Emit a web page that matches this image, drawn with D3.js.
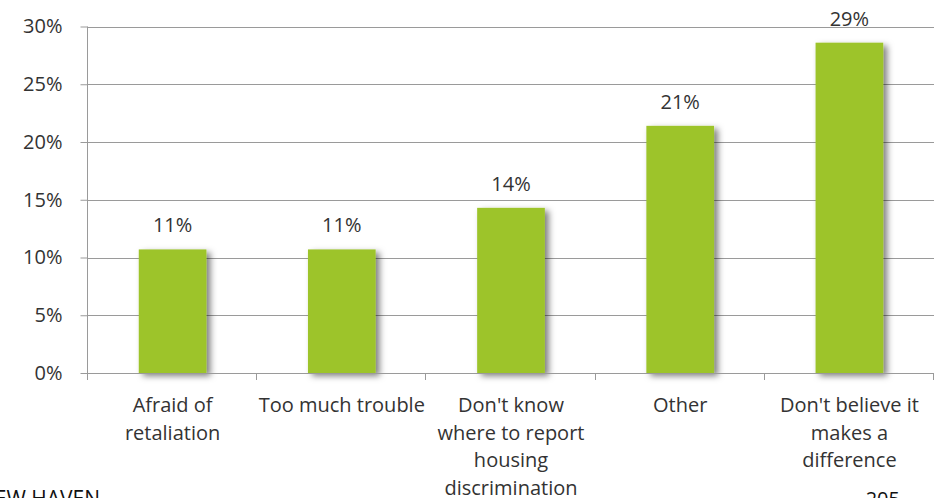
<!DOCTYPE html>
<html>
<head>
<meta charset="utf-8">
<script src="https://cdn.jsdelivr.net/npm/d3@7"></script>
<style>
  html, body { margin: 0; padding: 0; background: #fff; overflow: hidden; }
  svg { display: block; }
  text { font-family: "Open Sans", "Noto Sans", sans-serif; }
</style>
</head>
<body>
<svg id="chart" width="940" height="498"></svg>
<script>
// Reasons for not reporting housing discrimination
const categories = [
  "Afraid of\nretaliation",
  "Too much trouble",
  "Don't know\nwhere to report\nhousing\ndiscrimination",
  "Other",
  "Don't believe it\nmakes a\ndifference"
];
const shares = [0.107, 0.107, 0.143, 0.214, 0.286];
const yTicks = [0, 0.05, 0.10, 0.15, 0.20, 0.25, 0.30];

const svg = d3.select("#chart");
const plotLeft = 88, plotRight = 934, plotTop = 26.5, plotBottom = 373;
const fontSize = 20;

const x = d3.scaleBand().domain(d3.range(categories.length))
  .range([plotLeft, plotRight]).paddingInner(0.6).paddingOuter(0.3);
const y = d3.scaleLinear().domain([0, 0.30]).range([plotBottom, plotTop]);
const pct = d3.format(".0%");

// soft drop shadow under each bar
const defs = svg.append("defs");
const f = defs.append("filter").attr("id", "shadow")
  .attr("x", "-20%").attr("y", "-10%").attr("width", "150%").attr("height", "130%");
f.append("feDropShadow").attr("dx", 4).attr("dy", 3).attr("stdDeviation", 3)
  .attr("flood-color", "#000").attr("flood-opacity", 0.5);

// horizontal gridlines
svg.append("g").selectAll("line").data(yTicks.slice(1)).join("line")
  .attr("x1", plotLeft).attr("x2", plotRight)
  .attr("y1", d => Math.round(y(d)) + 0.5).attr("y2", d => Math.round(y(d)) + 0.5)
  .attr("stroke", "#9a9a9a").attr("stroke-width", 1);

// y axis
const yAxis = svg.append("g").attr("transform", `translate(${plotLeft - 0.5},0)`)
  .call(d3.axisLeft(y).tickValues(yTicks).tickFormat(pct).tickSize(7).tickPadding(18));
yAxis.select(".domain").attr("stroke", "#9a9a9a").attr("d", `M0,${plotTop}V${plotBottom + 6}`);
yAxis.selectAll(".tick line").attr("stroke", "#9a9a9a");
yAxis.selectAll(".tick text").attr("font-size", fontSize).attr("fill", "#333")
  .attr("font-family", "'Open Sans', sans-serif");

// bars
svg.append("g").selectAll("rect").data(shares).join("rect")
  .attr("x", (d, i) => x(i)).attr("width", x.bandwidth())
  .attr("y", d => y(d)).attr("height", d => y(0) - y(d))
  .attr("fill", "#9dc42c").attr("filter", "url(#shadow)");

// x axis baseline and category dividers
const bounds = d3.range(categories.length + 1)
  .map(i => plotLeft + i * (plotRight - plotLeft) / categories.length);
svg.append("line").attr("x1", plotLeft).attr("x2", plotRight)
  .attr("y1", plotBottom + 0.5).attr("y2", plotBottom + 0.5).attr("stroke", "#9a9a9a");
svg.append("g").selectAll("line").data(bounds).join("line")
  .attr("x1", d => Math.round(d) - 0.5).attr("x2", d => Math.round(d) - 0.5)
  .attr("y1", plotBottom).attr("y2", plotBottom + 7).attr("stroke", "#9a9a9a");

// value labels
svg.append("g").selectAll("text").data(shares).join("text")
  .attr("x", (d, i) => x(i) + x.bandwidth() / 2)
  .attr("y", d => y(d) - 17)
  .attr("text-anchor", "middle").attr("font-size", fontSize).attr("fill", "#333")
  .text(d => pct(d));

// category labels
const cat = svg.append("g").selectAll("text").data(categories).join("text")
  .attr("text-anchor", "middle").attr("font-size", fontSize).attr("fill", "#333");
cat.each(function(d, i) {
  const cx = x(i) + x.bandwidth() / 2;
  d3.select(this).selectAll("tspan").data(d.split("\n")).join("tspan")
    .attr("x", cx).attr("y", (l, j) => 412 + j * 27.7).text(l => l);
});

// footer
svg.append("text").attr("x", 100).attr("y", 506).attr("text-anchor", "end")
  .attr("font-family", "'Liberation Sans', Arial, sans-serif").attr("font-size", 21)
  .attr("fill", "#111").text("NEW HAVEN");
svg.append("text").attr("x", 900).attr("y", 506).attr("text-anchor", "end")
  .attr("font-family", "'Liberation Sans', Arial, sans-serif").attr("font-size", 20)
  .attr("fill", "#111").text("205");
</script>
</body>
</html>
